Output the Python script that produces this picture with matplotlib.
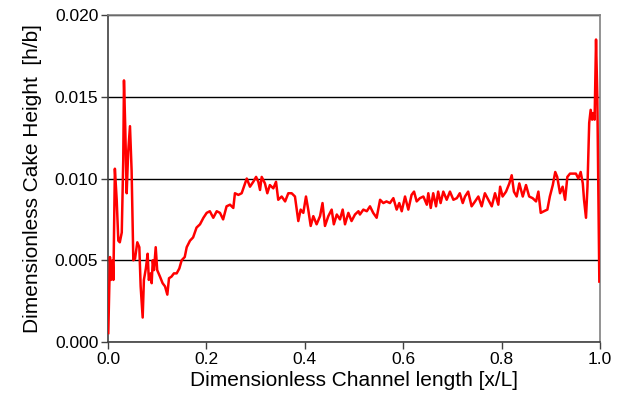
import matplotlib
matplotlib.use("Agg")
import matplotlib.pyplot as plt
from matplotlib.ticker import MultipleLocator

# dimensionless position along the channel and cake height
x_pos = [
    0.0006, 0.004, 0.006, 0.0095, 0.011, 0.014, 0.0177, 0.021, 0.024, 0.028,
    0.031, 0.0325, 0.035, 0.038, 0.041, 0.0447, 0.048, 0.0515, 0.055, 0.0596,
    0.0637, 0.0664, 0.0705, 0.073, 0.077, 0.0806, 0.083, 0.087, 0.0888, 0.091,
    0.0935, 0.097, 0.100, 0.1057, 0.111, 0.116, 0.1206, 0.124, 0.129, 0.134,
    0.1396, 0.145, 0.1497, 0.156, 0.160, 0.1667, 0.173, 0.180, 0.187, 0.194,
    0.2006, 0.207, 0.214, 0.221, 0.2276, 0.234, 0.241, 0.248, 0.2547, 0.258,
    0.265, 0.2717, 0.2785, 0.282, 0.2886, 0.2953, 0.301, 0.3055, 0.309, 0.3124,
    0.319, 0.3238, 0.329, 0.336, 0.3415, 0.346, 0.353, 0.360, 0.3665, 0.3733,
    0.380, 0.3868, 0.3916, 0.397, 0.4024, 0.407, 0.412, 0.4173, 0.424, 0.431,
    0.436, 0.441, 0.4478, 0.4546, 0.459, 0.465, 0.4715, 0.477, 0.4817, 0.4885,
    0.495, 0.502, 0.509, 0.512, 0.519, 0.526, 0.5325, 0.539, 0.546, 0.553,
    0.5596, 0.566, 0.573, 0.580, 0.5867, 0.592, 0.597, 0.6037, 0.6104, 0.617,
    0.622, 0.6274, 0.634, 0.641, 0.648, 0.651, 0.656, 0.661, 0.6667, 0.671,
    0.676, 0.6815, 0.6884, 0.695, 0.702, 0.709, 0.715, 0.721, 0.7256, 0.732,
    0.739, 0.746, 0.7527, 0.7595, 0.766, 0.773, 0.780, 0.7866, 0.7933, 0.797,
    0.802, 0.809, 0.8157, 0.8205, 0.825, 0.8306, 0.836, 0.843, 0.8496, 0.856,
    0.863, 0.870, 0.8747, 0.8795, 0.886, 0.893, 0.898, 0.904, 0.909, 0.913,
    0.9187, 0.924, 0.929, 0.9336, 0.939, 0.946, 0.951, 0.956, 0.9607, 0.965,
    0.9675, 0.9715, 0.9745, 0.9763, 0.978, 0.981, 0.984, 0.9864, 0.989, 0.9919,
    0.9945, 0.9966, 0.9986,
]
cake_h = [
    0.00055, 0.0052, 0.0038, 0.0050, 0.0038, 0.0106, 0.0087, 0.0062, 0.0061, 0.0067,
    0.0111, 0.0160, 0.0132, 0.0091, 0.0116, 0.0132, 0.0105, 0.0050, 0.0051, 0.0061,
    0.0058, 0.0034, 0.0015, 0.0038, 0.0045, 0.0054, 0.0038, 0.0042, 0.0036, 0.0050,
    0.0044, 0.0058, 0.0044, 0.0040, 0.0036, 0.0034, 0.0029, 0.0039, 0.0040, 0.0042,
    0.0042, 0.0045, 0.0050, 0.0052, 0.0058, 0.0062, 0.0064, 0.0070, 0.0072, 0.0076,
    0.0079, 0.0080, 0.0076, 0.0080, 0.0079, 0.0075, 0.0083, 0.0084, 0.0082, 0.0091,
    0.0090, 0.0091, 0.0097, 0.0100, 0.0095, 0.0098, 0.0101, 0.0098, 0.0093, 0.0101,
    0.0097, 0.0091, 0.0096, 0.0094, 0.0098, 0.0087, 0.0089, 0.0086, 0.0091, 0.0091,
    0.0089, 0.0074, 0.0081, 0.0079, 0.0089, 0.0081, 0.0071, 0.0077, 0.0072, 0.0077,
    0.0085, 0.0071, 0.0077, 0.0081, 0.0072, 0.0078, 0.0075, 0.0081, 0.0072, 0.0079,
    0.0074, 0.0078, 0.0080, 0.0078, 0.0081, 0.0080, 0.0083, 0.0079, 0.0076, 0.0087,
    0.0085, 0.0086, 0.0085, 0.0088, 0.0081, 0.0085, 0.0080, 0.0089, 0.0081, 0.0090,
    0.0092, 0.0086, 0.0088, 0.0089, 0.0084, 0.0091, 0.0082, 0.0091, 0.0083, 0.0092,
    0.0085, 0.0092, 0.0087, 0.0092, 0.0087, 0.0088, 0.0091, 0.0085, 0.0089, 0.0092,
    0.0083, 0.0086, 0.0089, 0.0083, 0.0091, 0.0087, 0.0083, 0.0091, 0.0084, 0.0095,
    0.0089, 0.0092, 0.0097, 0.0102, 0.0092, 0.0089, 0.0097, 0.0089, 0.0096, 0.0089,
    0.0088, 0.0086, 0.0092, 0.0079, 0.0080, 0.0081, 0.0089, 0.0096, 0.0104, 0.0101,
    0.0091, 0.0095, 0.0087, 0.0101, 0.0103, 0.0103, 0.0103, 0.0100, 0.0104, 0.0097,
    0.0087, 0.0076, 0.0095, 0.0115, 0.0134, 0.0142, 0.0136, 0.0140, 0.0136, 0.0185,
    0.0150, 0.0095, 0.0037,
]

plt.rcParams["font.family"] = ["Liberation Sans", "DejaVu Sans"]

fig = plt.figure(figsize=(6.26, 4.01), dpi=100)
ax = fig.add_axes([0.1725, 0.147, 0.786, 0.8156])

ax.plot(x_pos, cake_h, color="#ff0000", lw=1.8, zorder=3)

ax.set_xlim(0, 1.0)
ax.set_ylim(0, 0.020)
ax.xaxis.set_major_locator(MultipleLocator(0.2))
ax.yaxis.set_major_locator(MultipleLocator(0.005))
ax.xaxis.set_major_formatter(lambda v, p: f"{v:.1f}")
ax.yaxis.set_major_formatter(lambda v, p: f"{v:.3f}")
ax.grid(axis="y", color="black", lw=1.0)
ax.set_axisbelow(True)

for side in ("top", "right"):
    ax.spines[side].set_color("#808080")
    ax.spines[side].set_linewidth(1.2)
for side in ("left", "bottom"):
    ax.spines[side].set_color("#404040")
    ax.spines[side].set_linewidth(1.2)
ax.tick_params(direction="out", length=5, width=1.0, color="#404040",
               labelsize=12.5, pad=2)

ax.set_xlabel("Dimensionless Channel length [x/L]", fontsize=15, labelpad=3)
ax.set_ylabel("Dimensionless Cake Height  [h/b]", fontsize=15, labelpad=9)

fig.savefig("out.png", dpi=100)
